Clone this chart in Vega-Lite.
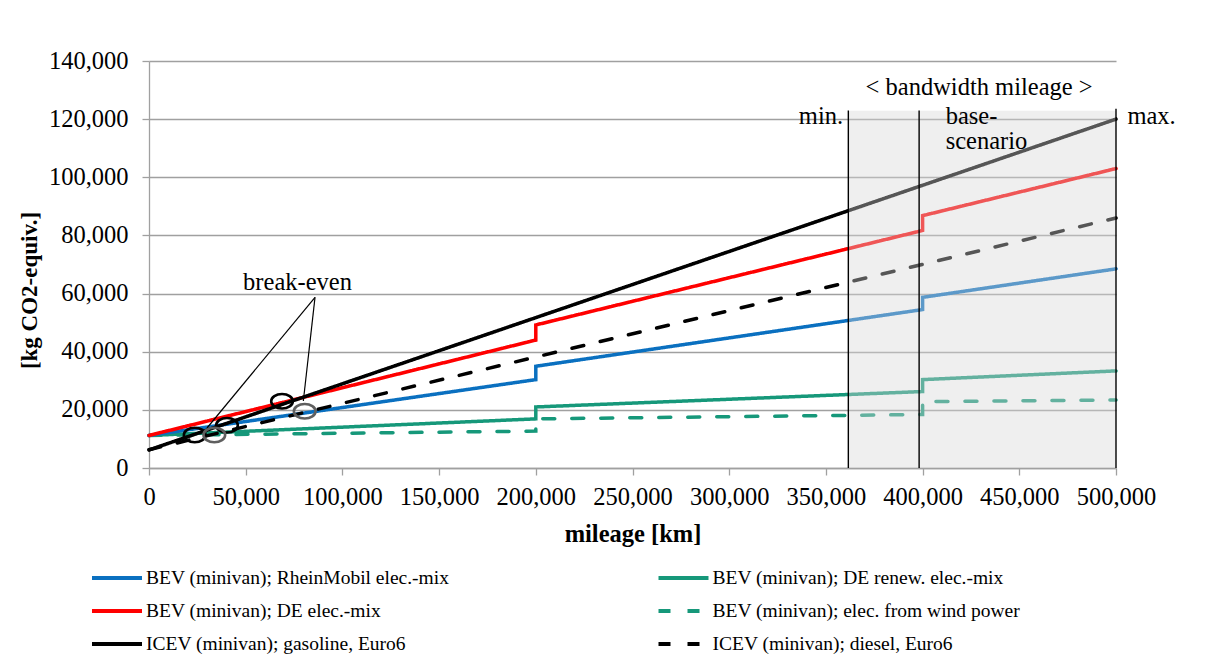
{
  "$schema": "https://vega.github.io/schema/vega-lite/v6.json",
  "width": 967,
  "height": 407,
  "autosize": {"type": "none"},
  "padding": {"left": 149, "top": 61, "right": 98, "bottom": 191},
  "background": "white",
  "config": {
    "font": "Liberation Serif",
    "view": {"stroke": null},
    "axis": {
      "labelFont": "Liberation Serif",
      "titleFont": "Liberation Serif",
      "labelFontSize": 24.5,
      "titleFontSize": 24.5,
      "titleFontWeight": "bold",
      "labelColor": "#000000",
      "titleColor": "#000000",
      "domainColor": "#a0a0a0",
      "domainWidth": 1.3,
      "tickColor": "#a0a0a0",
      "tickWidth": 1.3,
      "tickSize": 7,
      "gridColor": "#a0a0a0",
      "gridWidth": 1.3
    },
    "legend": {
      "labelFont": "Liberation Serif",
      "labelFontSize": 19.5,
      "labelColor": "#000000"
    }
  },
  "datasets": {
    "lines": [
      {"series": "BEV (minivan); DE renew. elec.-mix", "seq": 1, "km": 0, "co2": 11200},
      {"series": "BEV (minivan); DE renew. elec.-mix", "seq": 2, "km": 200000, "co2": 16900},
      {"series": "BEV (minivan); DE renew. elec.-mix", "seq": 3, "km": 200000, "co2": 21000},
      {"series": "BEV (minivan); DE renew. elec.-mix", "seq": 4, "km": 400000, "co2": 26300},
      {"series": "BEV (minivan); DE renew. elec.-mix", "seq": 5, "km": 400000, "co2": 30400},
      {"series": "BEV (minivan); DE renew. elec.-mix", "seq": 6, "km": 500000, "co2": 33400},
      {"series": "BEV (minivan);  elec. from wind power", "seq": 1, "km": 0, "co2": 11200},
      {"series": "BEV (minivan);  elec. from wind power", "seq": 2, "km": 200000, "co2": 12700},
      {"series": "BEV (minivan);  elec. from wind power", "seq": 3, "km": 200000, "co2": 16900},
      {"series": "BEV (minivan);  elec. from wind power", "seq": 4, "km": 400000, "co2": 18400},
      {"series": "BEV (minivan);  elec. from wind power", "seq": 5, "km": 400000, "co2": 22800},
      {"series": "BEV (minivan);  elec. from wind power", "seq": 6, "km": 500000, "co2": 23400},
      {"series": "BEV (minivan); RheinMobil elec.-mix", "seq": 1, "km": 0, "co2": 11200},
      {"series": "BEV (minivan); RheinMobil elec.-mix", "seq": 2, "km": 200000, "co2": 30400},
      {"series": "BEV (minivan); RheinMobil elec.-mix", "seq": 3, "km": 200000, "co2": 35000},
      {"series": "BEV (minivan); RheinMobil elec.-mix", "seq": 4, "km": 400000, "co2": 54500},
      {"series": "BEV (minivan); RheinMobil elec.-mix", "seq": 5, "km": 400000, "co2": 58700},
      {"series": "BEV (minivan); RheinMobil elec.-mix", "seq": 6, "km": 500000, "co2": 68500},
      {"series": "BEV (minivan); DE elec.-mix", "seq": 1, "km": 0, "co2": 11200},
      {"series": "BEV (minivan); DE elec.-mix", "seq": 2, "km": 200000, "co2": 44000},
      {"series": "BEV (minivan); DE elec.-mix", "seq": 3, "km": 200000, "co2": 49200},
      {"series": "BEV (minivan); DE elec.-mix", "seq": 4, "km": 400000, "co2": 81700},
      {"series": "BEV (minivan); DE elec.-mix", "seq": 5, "km": 400000, "co2": 86800},
      {"series": "BEV (minivan); DE elec.-mix", "seq": 6, "km": 500000, "co2": 103000},
      {"series": "ICEV (minivan); diesel, Euro6", "seq": 1, "km": 0, "co2": 6300},
      {"series": "ICEV (minivan); diesel, Euro6", "seq": 2, "km": 500000, "co2": 86000},
      {"series": "ICEV (minivan); gasoline, Euro6", "seq": 1, "km": 0, "co2": 6200},
      {"series": "ICEV (minivan); gasoline, Euro6", "seq": 2, "km": 500000, "co2": 120000}
    ],
    "bands": [
      {"x0": 361600, "x1": 500000, "y0": 0, "y1": 122900}
    ],
    "vrules": [
      {"km": 361600, "y0": 0, "y1": 123000},
      {"km": 398200, "y0": 0, "y1": 123000},
      {"km": 500000, "y0": 0, "y1": 123600}
    ],
    "pointers": [
      {"x0": 85840, "y0": 58720, "x1": 29990, "y1": 13760},
      {"x0": 85840, "y0": 58720, "x1": 79800, "y1": 23050}
    ],
    "ellipses": [
      {"km": 23630, "co2": 11350, "kind": "black"},
      {"km": 40330, "co2": 14690, "kind": "black"},
      {"km": 68780, "co2": 22950, "kind": "black"},
      {"km": 33770, "co2": 11350, "kind": "grey"},
      {"km": 80510, "co2": 19500, "kind": "grey"}
    ],
    "centerText": [
      {"label": "break-even", "km": 76800, "co2": 63640},
      {"label": "< bandwidth mileage >", "km": 429200, "co2": 130700}
    ],
    "rightText": [
      {"label": "min.", "km": 358900, "co2": 120750}
    ],
    "leftText": [
      {"label": "base-", "km": 411950, "co2": 120750},
      {"label": "scenario", "km": 411950, "co2": 112250},
      {"label": "max.", "km": 505900, "co2": 120750}
    ]
  },
  "layer": [
    {
      "data": {"name": "lines"},
      "mark": {"type": "line", "strokeWidth": 3.5, "strokeCap": "round"},
      "encoding": {
        "x": {
          "field": "km", "type": "quantitative",
          "scale": {"domain": [0, 500000], "nice": false, "zero": false},
          "axis": {
            "title": "mileage [km]",
            "values": [0, 50000, 100000, 150000, 200000, 250000, 300000, 350000, 400000, 450000, 500000],
            "format": ",d",
            "grid": false,
            "labelPadding": 10,
            "labelFlush": false,
            "titlePadding": 14
          }
        },
        "y": {
          "field": "co2", "type": "quantitative",
          "scale": {"domain": [0, 140000], "nice": false},
          "axis": {
            "title": "[kg CO2-equiv.]",
            "titleFontSize": 23,
            "titleY": 229,
            "values": [0, 20000, 40000, 60000, 80000, 100000, 120000, 140000],
            "format": ",d",
            "grid": true,
            "labelPadding": 14,
            "titlePadding": 7
          }
        },
        "color": {
          "field": "series", "type": "nominal",
          "scale": {
            "domain": ["BEV (minivan); RheinMobil elec.-mix", "BEV (minivan); DE elec.-mix", "ICEV (minivan); gasoline, Euro6", "BEV (minivan); DE renew. elec.-mix", "BEV (minivan);  elec. from wind power", "ICEV (minivan); diesel, Euro6"],
            "range": ["#0a70c0", "#ff0000", "#000000", "#16987a", "#16987a", "#000000"]
          },
          "legend": {
            "title": null,
            "orient": "none",
            "legendX": -46.5,
            "legendY": 502.5,
            "columns": 2,
            "symbolType": "M-2,0L2,0",
            "symbolSize": 625,
            "symbolStrokeWidth": 4,
            "labelOffset": 14.5,
            "rowPadding": 9,
            "columnPadding": 200.5,
            "labelLimit": 600
          }
        },
        "strokeDash": {
          "field": "series", "type": "nominal",
          "scale": {
            "domain": ["BEV (minivan); RheinMobil elec.-mix", "BEV (minivan); DE elec.-mix", "ICEV (minivan); gasoline, Euro6", "BEV (minivan); DE renew. elec.-mix", "BEV (minivan);  elec. from wind power", "ICEV (minivan); diesel, Euro6"],
            "range": [[1, 0], [1, 0], [1, 0], [1, 0], [12, 17], [12, 17]]
          },
          "legend": {
            "title": null,
            "orient": "none",
            "legendX": -46.5,
            "legendY": 502.5,
            "columns": 2,
            "symbolType": "M-2,0L2,0",
            "symbolSize": 625,
            "symbolStrokeWidth": 4,
            "labelOffset": 14.5,
            "rowPadding": 9,
            "columnPadding": 200.5,
            "labelLimit": 600
          }
        },
        "order": {"field": "seq", "type": "quantitative"}
      }
    },
    {
      "data": {"name": "bands"},
      "mark": {"type": "rect", "fill": "#d7d7d7", "opacity": 0.4},
      "encoding": {
        "x": {"field": "x0", "type": "quantitative"},
        "x2": {"field": "x1"},
        "y": {"field": "y0", "type": "quantitative"},
        "y2": {"field": "y1"}
      }
    },
    {
      "data": {"name": "vrules"},
      "mark": {"type": "rule", "color": "#000000", "strokeWidth": 1.4},
      "encoding": {
        "x": {"field": "km", "type": "quantitative"},
        "y": {"field": "y0", "type": "quantitative"},
        "y2": {"field": "y1"}
      }
    },
    {
      "data": {"name": "pointers"},
      "mark": {"type": "rule", "color": "#000000", "strokeWidth": 1.2},
      "encoding": {
        "x": {"field": "x0", "type": "quantitative"},
        "y": {"field": "y0", "type": "quantitative"},
        "x2": {"field": "x1"},
        "y2": {"field": "y1"}
      }
    },
    {
      "data": {"name": "ellipses"},
      "mark": {
        "type": "point",
        "filled": false,
        "strokeWidth": 2.6,
        "opacity": 1,
        "size": 470,
        "shape": "M-1,0C-1,-0.37,-0.552,-0.67,0,-0.67C0.552,-0.67,1,-0.37,1,0C1,0.37,0.552,0.67,0,0.67C-0.552,0.67,-1,0.37,-1,0Z"
      },
      "encoding": {
        "x": {"field": "km", "type": "quantitative"},
        "y": {"field": "co2", "type": "quantitative"},
        "stroke": {
          "field": "kind", "type": "nominal",
          "scale": {"domain": ["black", "grey"], "range": ["#000000", "#5f5f5f"]},
          "legend": null
        }
      }
    },
    {
      "data": {"name": "centerText"},
      "mark": {"type": "text", "align": "center", "baseline": "middle", "fontSize": 24.5, "font": "Liberation Serif", "color": "#000000"},
      "encoding": {
        "x": {"field": "km", "type": "quantitative"},
        "y": {"field": "co2", "type": "quantitative"},
        "text": {"field": "label"}
      }
    },
    {
      "data": {"name": "rightText"},
      "mark": {"type": "text", "align": "right", "baseline": "middle", "fontSize": 24.5, "font": "Liberation Serif", "color": "#000000"},
      "encoding": {
        "x": {"field": "km", "type": "quantitative"},
        "y": {"field": "co2", "type": "quantitative"},
        "text": {"field": "label"}
      }
    },
    {
      "data": {"name": "leftText"},
      "mark": {"type": "text", "align": "left", "baseline": "middle", "fontSize": 24.5, "font": "Liberation Serif", "color": "#000000"},
      "encoding": {
        "x": {"field": "km", "type": "quantitative"},
        "y": {"field": "co2", "type": "quantitative"},
        "text": {"field": "label"}
      }
    }
  ]
}
